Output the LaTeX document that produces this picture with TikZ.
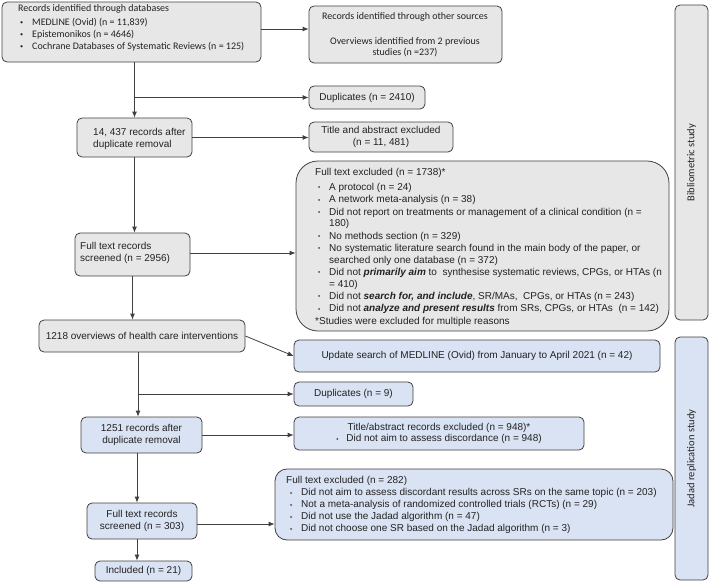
\documentclass[tikz,border=0pt]{standalone}
\usepackage{fontspec}
\usepackage{graphicx}
\setmainfont{Liberation Sans}
\newfontfamily\calfont{Carlito}
\usetikzlibrary{arrows.meta}
\definecolor{gfill}{HTML}{E7E7E7}
\definecolor{bfill}{HTML}{DAE3F3}
\definecolor{lc}{HTML}{404040}
\definecolor{tc}{HTML}{222222}
\newcommand\sbul{\raisebox{0.8pt}{\scalebox{0.62}{\textbullet}}}
\newcommand\bl{\makebox[14pt][l]{\hspace{3pt}\sbul}}
\newcommand\bla{\makebox[14pt][l]{\hspace{2pt}\sbul}}
\newcommand\blk{\makebox[15pt][l]{\hspace{4pt}\sbul}}
\newcommand\ind{\hspace*{14pt}}
\newcommand\bi[1]{\textbf{\textit{#1}}}
\begin{document}
\begin{tikzpicture}[x=1pt,y=-1pt,
  box/.style={draw=lc, line width=0.8pt, rounded corners=5pt, inner sep=0pt, text=tc,
    font=\fontsize{10}{11.7}\selectfont, align=center},
  gbox/.style={box, fill=gfill},
  bbox/.style={box, fill=bfill},
  txt/.style={inner sep=0pt, text=tc, font=\fontsize{10}{11.7}\selectfont, align=left},
  ctxt/.style={inner sep=0pt, text=tc, font=\calfont\fontsize{10}{12}\selectfont},
  arr/.style={draw=lc, line width=0.8pt, -{Latex[length=6pt,width=5pt]}},
]
\useasboundingbox (0,0) rectangle (712,582);

% ---------- boxes (upper part) ----------
\node[gbox, minimum width=259pt, minimum height=60pt] (A) at (131.5,32) {};
\node[ctxt, anchor=north west, align=left] (At) at (18,4.5)
  {Records identified through databases\\[1.5pt]
   \bla MEDLINE (Ovid) (n = 11,839)\\
   \bla Epistemonikos (n = 4646)\\
   \bla Cochrane Databases of Systematic Reviews (n = 125)};

\node[gbox, minimum width=193pt, minimum height=57pt] (B) at (405.5,34.5) {};
\node[ctxt, align=center, font=\calfont\fontsize{10}{10.8}\selectfont] (Bt) at (405,35)
  {Records identified through other sources\\[14pt]
   Overviews identified from 2 previous\\ studies (n =237)};

\node[gbox, minimum width=116pt, minimum height=23pt] (D1) at (367,97.5) {Duplicates (n = 2410)};

\node[gbox, minimum width=115pt, minimum height=39pt] (C) at (134.5,137.5) {};
\node[txt, anchor=north west] (Ct) at (93,128) {14, 437 records after\\duplicate removal};

\node[gbox, minimum width=144pt, minimum height=30pt] (TA) at (381,137)
  {Title and abstract excluded\\(n = 11, 481)};

\node[gbox, minimum width=115pt, minimum height=43pt] (D) at (132.5,254.5) {};
\node[txt, anchor=north west] (Dt) at (80,242) {Full text records\\screened (n = 2956)};

\node[gbox, rounded corners=22pt, minimum width=373pt, minimum height=170pt] (E) at (482.5,246) {};
\node[txt, anchor=north west] (Et) at (315,168.5)
  {Full text excluded (n = 1738)*\\[3pt]
   \bl A protocol (n = 24)\\[0.6pt]
   \bl A network meta-analysis (n = 38)\\[0.6pt]
   \bl Did not report on treatments or management of a clinical condition (n =\\
   \ind 180)\\[0.6pt]
   \bl No methods section (n = 329)\\[0.6pt]
   \bl No systematic literature search found in the main body of the paper, or\\
   \ind searched only one database (n = 372)\\[0.6pt]
   \bl Did not \bi{primarily aim} to\ \ synthesise systematic reviews, CPGs, or HTAs (n\\
   \ind = 410)\\[0.6pt]
   \bl Did not \bi{search for, and include}, SR/MAs,\ \ CPGs, or HTAs (n = 243)\\[0.6pt]
   \bl Did not \bi{analyze and present results} from SRs, CPGs, or HTAs\ \ (n = 142)\\[0.6pt]
   *Studies were excluded for multiple reasons};

% ---------- boxes (lower part) ----------
\node[gbox, minimum width=206pt, minimum height=32pt] (F) at (142,336)
  {1218 overviews of health care interventions};
\node[bbox, minimum width=366pt, minimum height=32pt] (G) at (477,356)
  {Update search of MEDLINE (Ovid) from January to April 2021 (n = 42)};
\node[bbox, minimum width=119pt, minimum height=24pt] (D2) at (353.5,394) {Duplicates (n = 9)};
\node[bbox, minimum width=121pt, minimum height=36pt] (H) at (141.5,435)
  {1251 records after\\duplicate removal};
\node[bbox, minimum width=290pt, minimum height=33pt] (I) at (439,433.5)
  {Title/abstract records excluded (n = 948)*\\
   \makebox[10pt][l]{\sbul}Did not aim to assess discordance (n = 948)};
\node[bbox, minimum width=110pt, minimum height=36pt] (J) at (142,521)
  {Full text records\\screened (n = 303)};
\node[bbox, rounded corners=12pt, minimum width=398pt, minimum height=71pt] (K) at (474,504.5) {};
\node[txt, anchor=north west, font=\fontsize{10}{12}\selectfont] (Kt) at (286,476.5)
  {Full text excluded (n = 282)\\
   \blk Did not aim to assess discordant results across SRs on the same topic (n = 203)\\
   \blk Not a meta-analysis of randomized controlled trials (RCTs) (n = 29)\\
   \blk Did not use the Jadad algorithm (n = 47)\\
   \blk Did not choose one SR based on the Jadad algorithm (n = 3)};
\node[bbox, minimum width=97pt, minimum height=20pt] (L) at (143.5,571) {Included (n = 21)};

% ---------- side bars ----------
\node[gbox, minimum width=33pt, minimum height=315pt] (Bib) at (691.5,162.5) {};
\node[ctxt, rotate=90, font=\calfont\fontsize{10.5}{12}\selectfont] (Bibt) at (691.5,162.5) {Bibliometric study};
\node[bbox, minimum width=33pt, minimum height=243pt] (Jad) at (691.5,458.5) {};
\node[ctxt, rotate=90, font=\calfont\fontsize{10.5}{12}\selectfont] (Jadt) at (691.5,458.5) {Jadad replication study};

% ---------- connectors ----------
\draw[arr] ([yshift=3pt]A.east) -- ([yshift=3pt]A.east -| B.west);
\draw[arr] (A.south -| C.north) -- (C.north);
\coordinate (j1) at (C.north |- D1.west);
\draw[arr] (j1) -- (D1.west);
\draw[arr] (C.east) -- (C.east -| TA.west);
\draw[arr] (C.south) -- (C.south |- D.north);
\draw[arr] ([yshift=1.5pt]D.east) -- ([yshift=1.5pt]D.east -| E.west);
\draw[arr] (D.south) -- (D.south |- F.north);
\draw[arr] (F.east) -- (G.west);
\coordinate (fs) at ([xshift=-4pt]F.south);
\draw[arr] (fs) -- (fs |- H.north);
\coordinate (j2) at (fs |- D2.west);
\draw[arr] (j2) -- (D2.west);
\draw[arr] (H.east) -- (H.east -| I.west);
\coordinate (hs) at ([xshift=-4.5pt]H.south);
\draw[arr] (hs) -- (hs |- J.north);
\draw[arr] ([yshift=-3pt]J.east) -- ([yshift=-3pt]J.east -| K.west);
\coordinate (js) at ([xshift=-5pt]J.south);
\draw[arr] (js) -- (js |- L.north);
\end{tikzpicture}
\end{document}
